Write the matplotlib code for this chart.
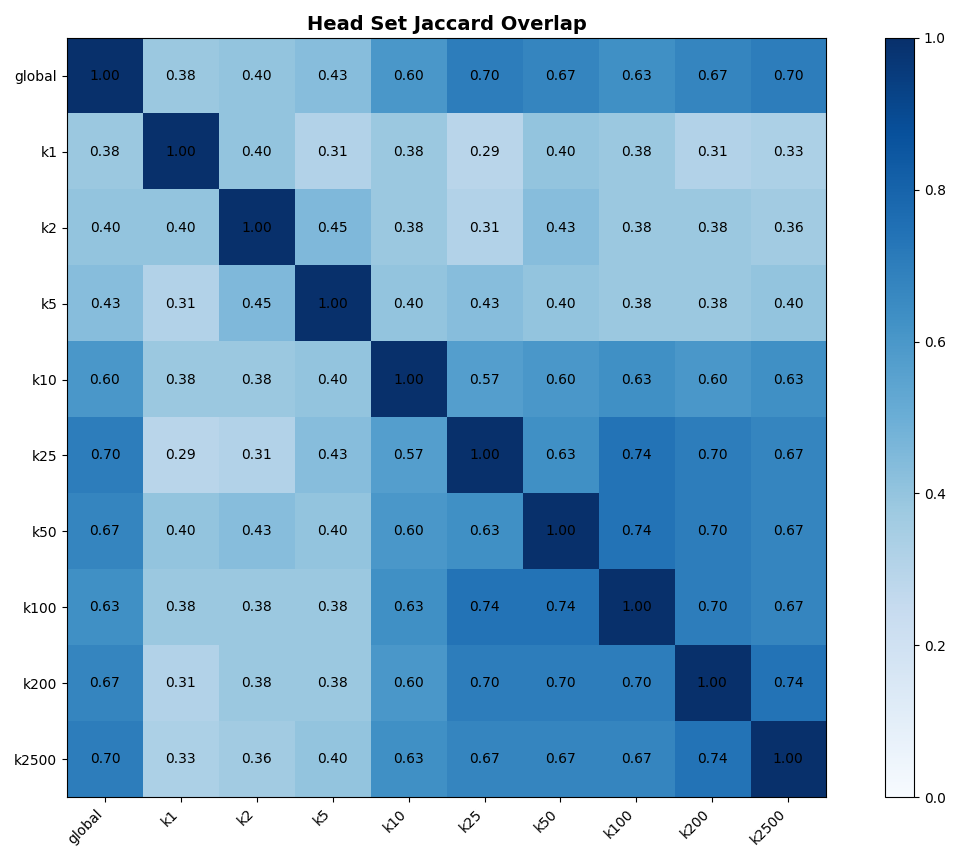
import matplotlib
matplotlib.use("Agg")
import matplotlib.pyplot as plt
import numpy as np

labels = ["global", "k1", "k2", "k5", "k10", "k25", "k50", "k100", "k200", "k2500"]

row_global = [1.00, 0.38, 0.40, 0.43, 0.60, 0.70, 0.67, 0.63, 0.67, 0.70]
row_k1 = [0.38, 1.00, 0.40, 0.31, 0.38, 0.29, 0.40, 0.38, 0.31, 0.33]
row_k2 = [0.40, 0.40, 1.00, 0.45, 0.38, 0.31, 0.43, 0.38, 0.38, 0.36]
row_k5 = [0.43, 0.31, 0.45, 1.00, 0.40, 0.43, 0.40, 0.38, 0.38, 0.40]
row_k10 = [0.60, 0.38, 0.38, 0.40, 1.00, 0.57, 0.60, 0.63, 0.60, 0.63]
row_k25 = [0.70, 0.29, 0.31, 0.43, 0.57, 1.00, 0.63, 0.74, 0.70, 0.67]
row_k50 = [0.67, 0.40, 0.43, 0.40, 0.60, 0.63, 1.00, 0.74, 0.70, 0.67]
row_k100 = [0.63, 0.38, 0.38, 0.38, 0.63, 0.74, 0.74, 1.00, 0.70, 0.67]
row_k200 = [0.67, 0.31, 0.38, 0.38, 0.60, 0.70, 0.70, 0.70, 1.00, 0.74]
row_k2500 = [0.70, 0.33, 0.36, 0.40, 0.63, 0.67, 0.67, 0.67, 0.74, 1.00]

overlap = np.array([row_global, row_k1, row_k2, row_k5, row_k10,
                    row_k25, row_k50, row_k100, row_k200, row_k2500])

fig = plt.figure(figsize=(9.59, 8.48), dpi=100)
ax = fig.add_axes([0.0699, 0.0601, 0.7915, 0.8951])
cax = fig.add_axes([0.923, 0.0601, 0.030, 0.8951])

im = ax.imshow(overlap, cmap="Blues", vmin=0, vmax=1, aspect="auto")
fig.colorbar(im, cax=cax)

n = len(labels)
ax.set_xticks(np.arange(n))
ax.set_yticks(np.arange(n))
ax.set_xticklabels(labels, rotation=45, ha="right")
ax.set_yticklabels(labels)

# annotate every cell with its overlap score
for i in range(n):
    for j in range(n):
        ax.text(j, i, f"{overlap[i, j]:.2f}", ha="center", va="center",
                color="black", fontsize=10)

ax.set_title("Head Set Jaccard Overlap", fontsize=14, fontweight="bold")

fig.savefig("out.png", dpi=100)
